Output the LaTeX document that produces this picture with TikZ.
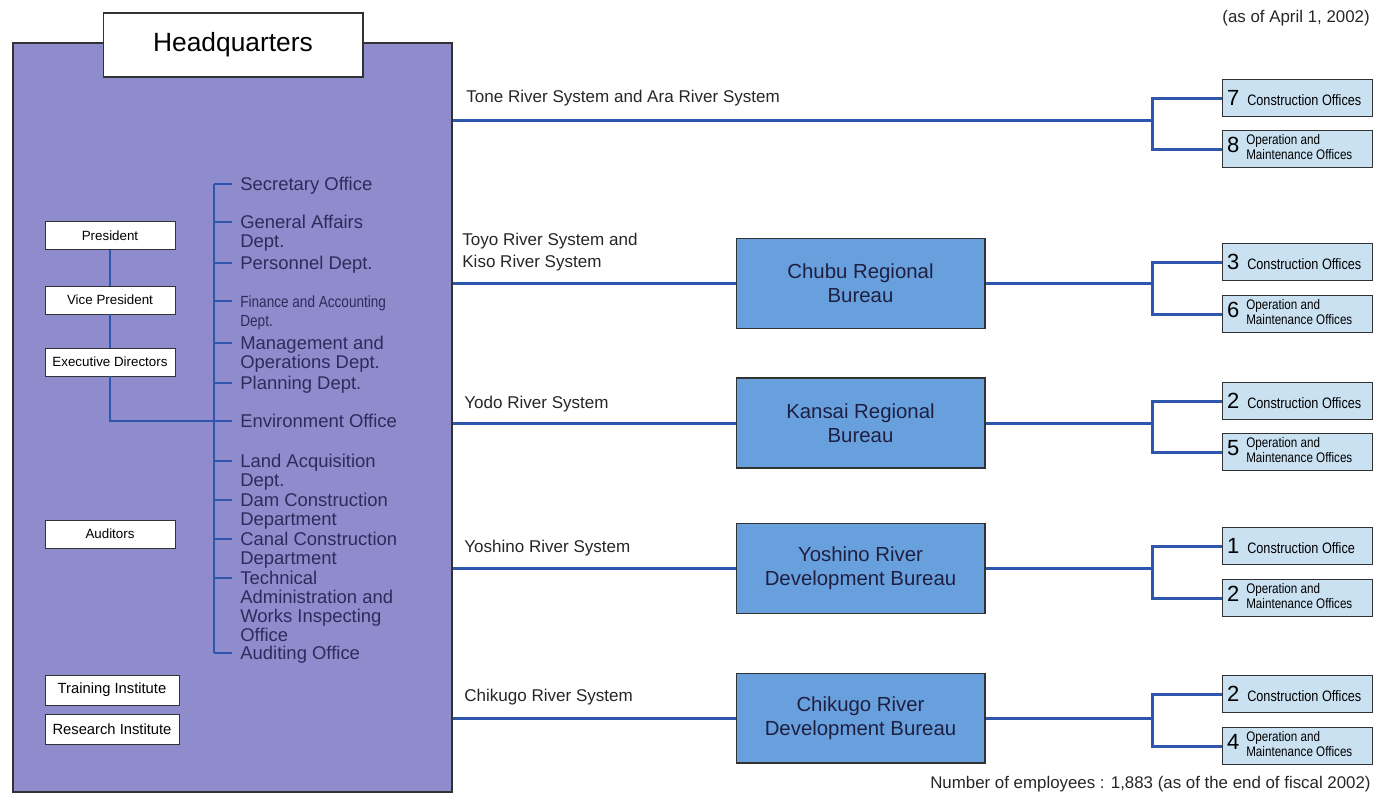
\documentclass[tikz,border=0pt]{standalone}
\usepackage{fontspec}
\setmainfont{Liberation Sans}
\newfontfamily\narrowfont[FakeStretch=0.84]{Liberation Sans}
\usepackage{tikz}
\definecolor{hqpurple}{RGB}{142,140,204}
\definecolor{bureaublue}{RGB}{104,160,222}
\definecolor{officeblue}{RGB}{202,225,242}
\definecolor{linkblue}{RGB}{46,86,172}
\definecolor{deptnavy}{RGB}{44,44,92}
\definecolor{boxline}{RGB}{50,50,50}
\tikzstyle{panel}=[draw=boxline, line width=1pt, fill=hqpurple, minimum width=8.78cm, minimum height=14.98cm, inner sep=0pt]
\tikzstyle{titlebox}=[draw=boxline, fill=white, line width=0.6pt, minimum width=5.2cm, minimum height=1.28cm, font=\fontsize{15}{15}\selectfont]
\tikzstyle{officer}=[draw=boxline, fill=white, line width=0.5pt, minimum width=2.6cm, minimum height=0.56cm, inner sep=0pt, font=\fontsize{7.6}{8}\selectfont]
\tikzstyle{institute}=[officer, minimum width=2.68cm, minimum height=0.6cm, font=\fontsize{8.4}{9}\selectfont]
\tikzstyle{dept}=[anchor=north west, inner sep=0pt, align=left, text=deptnavy, font=\fontsize{10.5}{10.8}\selectfont]
\tikzstyle{deptsmall}=[dept, font=\narrowfont\fontsize{9.2}{11.3}\selectfont]
\tikzstyle{river}=[anchor=west, inner sep=0pt, align=left, text=black!85, font=\fontsize{9.7}{12.5}\selectfont]
\tikzstyle{bureau}=[draw=boxline, fill=bureaublue, line width=0.6pt, minimum width=4.98cm, minimum height=1.8cm, align=center, text=deptnavy!70!black, font=\fontsize{11.6}{13.8}\selectfont]
\tikzstyle{office}=[draw=boxline, fill=officeblue, line width=0.6pt, anchor=west, minimum height=0.74cm, inner xsep=0.06cm, inner ysep=0pt]
\tikzstyle{note}=[inner sep=0pt, anchor=east, text=black!85, font=\fontsize{9.6}{10}\selectfont]
\tikzstyle{link}=[draw=linkblue, line width=1.7pt]
\tikzstyle{hqlink}=[draw=linkblue, line width=1.1pt]
\newcommand{\officeline}[2]{\makebox[2.88cm][l]{\hspace{0.03cm}{\fontsize{12.5}{12}\selectfont #1}\hspace{0.16cm}{\narrowfont\fontsize{8.6}{9}\selectfont #2}}}
\newcommand{\opmline}[1]{\makebox[2.88cm][l]{\hspace{0.03cm}{\fontsize{12.5}{12}\selectfont #1}\hspace{0.14cm}{\narrowfont\fontsize{7.9}{8.7}\selectfont\begin{tabular}{@{}l@{}}Operation and\\Maintenance Offices\end{tabular}}}}
\begin{document}
\begin{tikzpicture}[x=0.02cm, y=-0.02cm]
		   \useasboundingbox (0,0) rectangle (1375,796);
		   % headquarters
		   \begin{scope}
			   \node (hq) at (232.5,417.5)[panel] {};
			   \node (hqtitle) at (233,45)[titlebox] {Headquarters};
			   \node (pres) at (110,235.5)[officer] {President};
			   \node (vp) at (110,300)[officer] {Vice President};
			   \node (exec) at (110,362)[officer] {Executive Directors};
			   \node (aud) at (110,534)[officer] {Auditors};
			   \node (train) at (112,690)[institute] {Training Institute};
			   \node (research) at (112,729.5)[institute] {Research Institute};
			   \coordinate (dtop) at (214,184);
			   \coordinate (dbot) at (214,653);
			   \coordinate (k1) at (232,184);
			   \coordinate (k2) at (232,222);
			   \coordinate (k3) at (232,263);
			   \coordinate (k4) at (232,301);
			   \coordinate (k5) at (232,343);
			   \coordinate (k6) at (232,383);
			   \coordinate (k7) at (232,421);
			   \coordinate (k8) at (232,461);
			   \coordinate (k9) at (232,500);
			   \coordinate (k10) at (232,539);
			   \coordinate (k11) at (232,578);
			   \coordinate (k12) at (232,653);
			   \node (secr) at (240,177)[dept] {Secretary Office};
			   \node (genaff) at (240,215)[dept] {General Affairs\\Dept.};
			   \node (pers) at (240,256)[dept] {Personnel Dept.};
			   \node (fin) at (240,295)[deptsmall] {Finance and Accounting\\Dept.};
			   \node (mgmt) at (240,336)[dept] {Management and\\Operations Dept.};
			   \node (plan) at (240,376)[dept] {Planning Dept.};
			   \node (env) at (240,414)[dept] {Environment Office};
			   \node (land) at (240,454)[dept] {Land Acquisition\\Dept.};
			   \node (dam) at (240,493)[dept] {Dam Construction\\Department};
			   \node (canal) at (240,532)[dept] {Canal Construction\\Department};
			   \node (tech) at (240,571)[dept] {Technical\\Administration and\\Works Inspecting\\Office};
			   \node (audit) at (240,646)[dept] {Auditing Office};
		   \end{scope}
		   \begin{scope}
			   \path [hqlink] (pres) edge (vp);
			   \path [hqlink] (vp) edge (exec);
			   \draw [hqlink] (exec) |- (k7);
			   \draw [hqlink] (dtop) -- (dbot);
			   \draw [hqlink] (k1 -| dtop) -- (k1);
			   \draw [hqlink] (k2 -| dtop) -- (k2);
			   \draw [hqlink] (k3 -| dtop) -- (k3);
			   \draw [hqlink] (k4 -| dtop) -- (k4);
			   \draw [hqlink] (k5 -| dtop) -- (k5);
			   \draw [hqlink] (k6 -| dtop) -- (k6);
			   \draw [hqlink] (k8 -| dtop) -- (k8);
			   \draw [hqlink] (k9 -| dtop) -- (k9);
			   \draw [hqlink] (k10 -| dtop) -- (k10);
			   \draw [hqlink] (k11 -| dtop) -- (k11);
			   \draw [hqlink] (k12 -| dtop) -- (k12);
		   \end{scope}
		   % river systems and bureaus
		   \begin{scope}
			   \node (tonelbl) at (466,98)[river] {Tone River System and Ara River System};
			   \node (toyolbl) at (462,252)[river] {Toyo River System and\\Kiso River System};
			   \node (yodolbl) at (464,404)[river] {Yodo River System};
			   \node (yoshlbl) at (464,548)[river] {Yoshino River System};
			   \node (chiklbl) at (464,697)[river] {Chikugo River System};
			   \node (chubu) at (860.5,283.5)[bureau] {Chubu Regional\\Bureau};
			   \node (kansai) at (860.5,423)[bureau] {Kansai Regional\\Bureau};
			   \node (yoshino) at (860.5,568.5)[bureau] {Yoshino River\\Development Bureau};
			   \node (chikugo) at (860.5,718)[bureau] {Chikugo River\\Development Bureau};
			   \coordinate (jtone) at (1152,120);
			   \coordinate (jchubu) at (1152,283.5);
			   \coordinate (jkansai) at (1152,423);
			   \coordinate (jyosh) at (1152,568.5);
			   \coordinate (jchik) at (1152,718);
			   \node (c7) at (1222,98)[office] {\officeline{7}{Construction Offices}};
			   \node (m8) at (1222,149)[office] {\opmline{8}};
			   \node (c3) at (1222,262)[office] {\officeline{3}{Construction Offices}};
			   \node (m6) at (1222,314)[office] {\opmline{6}};
			   \node (c2a) at (1222,401)[office] {\officeline{2}{Construction Offices}};
			   \node (m5) at (1222,452)[office] {\opmline{5}};
			   \node (c1) at (1222,546)[office] {\officeline{1}{Construction Office}};
			   \node (m2) at (1222,598)[office] {\opmline{2}};
			   \node (c2b) at (1222,694)[office] {\officeline{2}{Construction Offices}};
			   \node (m4) at (1222,746)[office] {\opmline{4}};
			   \node (asof) at (1370,18)[note] {(as of April 1, 2002)};
			   \node (staff) at (1371,784)[note] {Number of employees : 1,883 (as of the end of fiscal 2002)};
		   \end{scope}
		   \begin{scope}
			   \draw [link] (hq.east |- jtone) -- (jtone);
			   \draw [link] (hq.east |- chubu) -- (chubu.west);
			   \draw [link] (hq.east |- kansai) -- (kansai.west);
			   \draw [link] (hq.east |- yoshino) -- (yoshino.west);
			   \draw [link] (hq.east |- chikugo) -- (chikugo.west);
			   \draw [link] (chubu.east) -- (jchubu);
			   \draw [link] (kansai.east) -- (jkansai);
			   \draw [link] (yoshino.east) -- (jyosh);
			   \draw [link] (chikugo.east) -- (jchik);
			   \draw [link] (c7.west) -| (jtone) |- (m8.west);
			   \draw [link] (c3.west) -| (jchubu) |- (m6.west);
			   \draw [link] (c2a.west) -| (jkansai) |- (m5.west);
			   \draw [link] (c1.west) -| (jyosh) |- (m2.west);
			   \draw [link] (c2b.west) -| (jchik) |- (m4.west);
		   \end{scope}
	   \end{tikzpicture}
\end{document}
